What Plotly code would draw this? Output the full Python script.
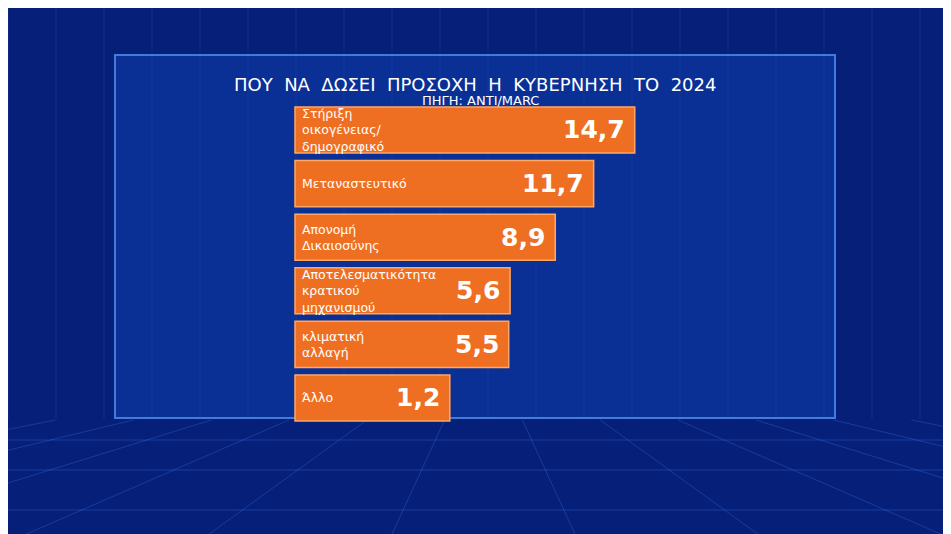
import plotly.graph_objects as go

categories = ["Στήριξη<br>οικογένειας/<br>δημογραφικό", "Μεταναστευτικό", "Απονομή<br>Δικαιοσύνης",
              "Αποτελεσματικότητα<br>κρατικού<br>μηχανισμού", "κλιματική<br>αλλαγή", "Άλλο"]
values = [14.7, 11.7, 8.9, 5.6, 5.5, 1.2]
value_labels = ["14,7", "11,7", "8,9", "5,6", "5,5", "1,2"]
title = "ΠΟΥ  ΝΑ  ΔΩΣΕΙ  ΠΡΟΣΟΧΗ  Η  ΚΥΒΕΡΝΗΣΗ  ΤΟ  2024"
subtitle = "ΠΗΓΗ: ANTI/MARC"

PAD = 10.1  # label area in front of each bar
idx = list(range(len(values)))
OFF = 8  # page margin offset
W, H = 951, 534

def px(x): return (x - OFF) / W
def py(y): return 1 - (y - OFF) / H

fig = go.Figure()
fig.add_bar(y=idx, x=[v + PAD for v in values], base=[-PAD] * len(values), orientation="h",
            width=0.86, marker=dict(color="#ef6f22", line=dict(color="#ffa866", width=1.5)),
            hoverinfo="skip")

ann = []
for i, (c, v, t) in enumerate(zip(categories, values, value_labels)):
    ann.append(dict(x=-PAD, y=i, xref="x", yref="y", text=c, showarrow=False, xanchor="left",
                    xshift=5, align="left", font=dict(color="white", size=12.5, family="DejaVu Sans")))
    ann.append(dict(x=v, y=i, xref="x", yref="y", text="<b>%s</b>" % t, showarrow=False,
                    xanchor="right", xshift=-8, font=dict(color="white", size=25, family="DejaVu Sans")))
ann.append(dict(x=px(475), y=py(72), xref="paper", yref="paper", text=title, showarrow=False,
                font=dict(color="white", size=18, family="DejaVu Sans")))
ann.append(dict(x=px(480), y=py(91), xref="paper", yref="paper", text=subtitle, showarrow=False,
                font=dict(color="white", size=13, family="DejaVu Sans")))

shapes = []
for k in range(0, 12):
    xp = k / 11
    shapes.append(dict(type="line", xref="paper", yref="paper", x0=0.5 + (xp - 0.5) * 0.9, y0=py(420),
                       x1=0.5 + (xp - 0.5) * 2.2, y1=0, line=dict(color="rgba(80,140,255,0.25)", width=1), layer="below"))
for yy in [440, 470, 510]:
    shapes.append(dict(type="line", xref="paper", yref="paper", x0=0, x1=1, y0=py(yy), y1=py(yy),
                       line=dict(color="rgba(80,140,255,0.25)", width=1), layer="below"))
for xx in range(0, 951, 48):
    shapes.append(dict(type="line", xref="paper", yref="paper", x0=xx / 951, x1=xx / 951, y0=py(420), y1=1,
                       line=dict(color="rgba(80,140,255,0.12)", width=1), layer="below"))
shapes.append(dict(type="rect", xref="paper", yref="paper", x0=px(115), x1=px(835), y0=py(418),
                   y1=py(55), fillcolor="rgba(20,80,200,0.35)", line=dict(color="rgba(90,160,255,0.7)", width=2),
                   layer="below"))

fig.update_layout(
    width=W, height=H, margin=dict(l=0, r=0, t=0, b=0),
    paper_bgcolor="#06207a", plot_bgcolor="rgba(0,0,0,0)", showlegend=False,
    xaxis=dict(range=[-31.05, 38.37], visible=False, fixedrange=True),
    yaxis=dict(range=[7.687, -2.276], visible=False, fixedrange=True),
    annotations=ann, shapes=shapes,
)
fig.write_html("out.html")
